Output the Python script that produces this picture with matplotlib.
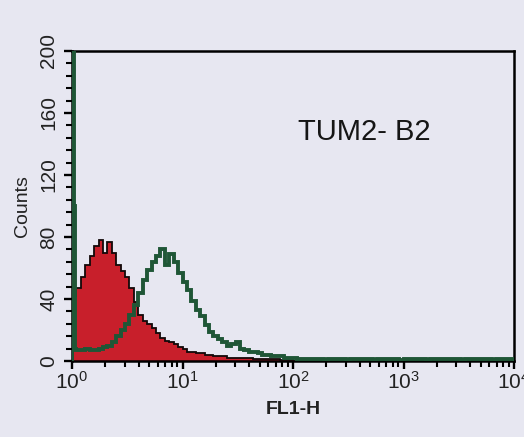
import numpy as np
import matplotlib
matplotlib.use("Agg")
import matplotlib.pyplot as plt
from matplotlib.ticker import FixedLocator, LogLocator, NullFormatter

# ---- data (log10 bin width 0.04 decade, from 10^0 to 10^4) ----
bin_step = 0.04
red_counts = [42, 47, 54, 62, 68, 74, 78, 70, 77, 70,
              62, 58, 54, 47, 38, 30, 26, 24, 21, 18,
              15, 13, 12, 11, 9, 8, 6, 6, 5, 5,
              4, 4, 3, 3, 3, 2, 2, 2, 2, 2,
              2, 1.5, 1.5, 1, 1, 1, 1, 0.5, 0.5, 0.5] + [0] * 50

green_spike = [250, 100]          # first two narrow channels (off scale)
green_counts = [8, 7, 7, 8, 7, 7, 8, 9, 10, 12,
                16, 20, 24, 30, 36, 44, 52, 59, 64, 68,
                72, 62, 69, 64, 57, 51, 46, 39, 33, 29,
                23, 19, 16, 14, 12, 10, 11, 12, 8, 7,
                6, 6, 5, 4, 4, 3, 3, 3, 2, 2,
                2, 1.5, 1.5, 1, 1, 1.5, 1, 0.5, 1, 1,
                1.5, 1, 0.5, 1, 1, 1.5, 1, 1, 0.5, 1,
                1, 1.5, 1, 1, 0.5, 1, 1.5, 1, 1, 1,
                0.5, 1, 1.5, 1, 1, 1, 1.5, 1, 0.5, 1,
                1, 1, 1.5, 1, 1, 0.5, 1, 1.5, 1, 1]

label_text = "TUM2- B2"
xlabel = "FL1-H"
ylabel = "Counts"
yticks = [0, 40, 80, 120, 160, 200]
xticks = [1, 10, 100, 1000, 10000]
xticklabels = [r"$10^{0}$", r"$10^{1}$", r"$10^{2}$", r"$10^{3}$", r"$10^{4}$"]

# ---- figure ----
bg = "#e7e7f1"
plt.rcParams['mathtext.fontset'] = 'custom'
plt.rcParams['mathtext.rm'] = 'Liberation Sans'
plt.rcParams['mathtext.default'] = 'regular'
font = "Liberation Sans"

fig = plt.figure(figsize=(5.24, 4.37), dpi=100, facecolor=bg)
ax = fig.add_axes([72/524, 1-361/437, (514-72)/524, (361-51)/437], facecolor=bg)

log_edges = np.arange(0, 4 + bin_step/2, bin_step)
edges = 10 ** log_edges
red = np.array(red_counts, dtype=float)
ax.stairs(red, edges, fill=True, color="#c81f2b", zorder=2)
ax.stairs(red, edges, fill=False, color="#120808", lw=1.3, zorder=3)

g_log_edges = np.concatenate([[0, 0.014, 0.03], log_edges[1:]])
g_edges = 10 ** g_log_edges
green = np.array(green_spike + green_counts, dtype=float)
ax.stairs(green, g_edges, fill=False, color="#1f5636", lw=2.8, zorder=4)

ax.set_xscale("log")
ax.set_xlim(1, 10000)
ax.set_ylim(0, 200)

ax.set_xticks(xticks)
ax.set_xticklabels(xticklabels, fontsize=15, family=font)
ax.xaxis.set_minor_locator(LogLocator(base=10, subs=np.arange(2, 10)))
ax.xaxis.set_minor_formatter(NullFormatter())

ax.set_yticks(yticks)
ax.set_yticklabels([str(v) for v in yticks], fontsize=15, family=font,
                   rotation=90, va="center")
ax.yaxis.set_minor_locator(FixedLocator(np.arange(0, 201, 8)))

ax.tick_params(axis="both", which="major", direction="out", length=6, width=1.7,
               color="black", labelcolor="#222222")
ax.tick_params(axis="both", which="minor", direction="out", length=4, width=1.5,
               color="black")
ax.tick_params(axis="x", which="major", pad=1)
ax.tick_params(axis="y", which="major", pad=4)

for s in ax.spines.values():
    s.set_linewidth(1.8)
    s.set_color("black")

ax.set_xlabel(xlabel, fontsize=14, family=font, fontweight="bold",
              color="#222222", labelpad=6)
ax.set_ylabel(ylabel, fontsize=14, family=font, color="#222222", labelpad=6)

ax.text(0.511, 0.74, label_text, transform=ax.transAxes, fontsize=21,
        family=font, color="#151515", ha="left", va="center")

fig.savefig("out.png", dpi=100, facecolor=bg)
